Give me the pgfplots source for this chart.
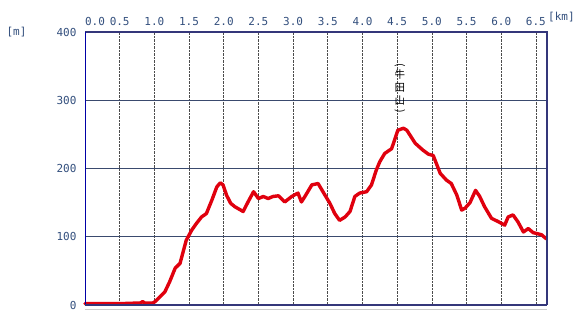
\documentclass[border=0pt]{standalone}
\usepackage{pgfplots}
\pgfplotsset{compat=1.18}
\usepackage{fontspec}
\setmainfont{DejaVu Sans Mono}
\newfontfamily\cjk{Noto Sans CJK JP}
\definecolor{lbl}{HTML}{34507E}
\definecolor{frame}{HTML}{34367A}
\definecolor{hgrid}{HTML}{3A4A6E}
\definecolor{prof}{HTML}{E0000E}
\begin{document}
\begin{tikzpicture}[x=1pt,y=1pt]
\path[use as bounding box,fill=white] (0,0) rectangle (580,313);
\begin{axis}[
  at={(85pt,8pt)}, anchor=south west,
  scale only axis, width=462pt, height=273pt,
  xmin=0, xmax=6.66, ymin=0, ymax=400,
  axis line style={draw=none},
  xtick={0.5,1,...,6.5},
  extra x ticks={0},
  extra x tick style={xticklabel style={xshift=10pt}, grid=none},
  ytick={0,100,200,300,400},
  major tick length=0pt,
  xticklabel pos=upper,
  xticklabel style={font=\fontsize{11}{12}\selectfont, text=lbl, yshift=3pt},
  yticklabel style={font=\fontsize{11}{12}\selectfont, text=lbl, xshift=-5pt},
  xticklabel={\pgfmathprintnumber[fixed,fixed zerofill,precision=1]{\tick}},
  /pgf/number format/assume math mode=true,
  xmajorgrids, ymajorgrids,
  x grid style={densely dotted, black!70, line width=0.6pt},
  y grid style={hgrid, line width=0.8pt},
  clip=false,
]
\addplot[prof, line width=3.4pt, line join=round, line cap=round] coordinates {
(0,2) (0.5,2) (0.80,3) (0.83,5) (0.86,3) (0.98,3) (1.01,5) (1.08,12) (1.15,19)
(1.22,34) (1.30,54) (1.37,61) (1.42,80) (1.46,95) (1.54,110) (1.61,120) (1.68,129)
(1.75,134) (1.83,154) (1.90,173) (1.95,179) (1.99,176) (2.04,161) (2.10,149)
(2.16,144) (2.28,137) (2.35,151) (2.43,166) (2.50,156) (2.57,159) (2.64,156)
(2.71,159) (2.79,160) (2.88,151) (2.98,159) (3.07,164) (3.12,151) (3.17,159)
(3.27,176) (3.36,178) (3.43,166) (3.53,149) (3.60,134) (3.67,124) (3.75,129)
(3.82,137) (3.89,159) (3.96,164) (4.06,166) (4.13,176) (4.20,198) (4.25,210)
(4.32,222) (4.42,229) (4.51,256) (4.59,259) (4.64,256) (4.76,237) (4.87,227)
(4.95,221) (5.02,219) (5.12,193) (5.21,183) (5.28,178) (5.36,161) (5.43,139)
(5.48,142) (5.55,150) (5.63,168) (5.69,159) (5.76,144) (5.86,127) (5.96,122)
(6.05,117) (6.10,129) (6.17,132) (6.24,122) (6.32,107) (6.39,112) (6.46,106)
(6.58,103) (6.65,97)
};
\draw[frame, line width=1.6pt] (rel axis cs:0,1) -- (rel axis cs:1,1) -- (rel axis cs:1,0);
\draw[blue!65!black, line width=0.8pt] (rel axis cs:0,0) -- (rel axis cs:0,1);
\draw[frame, line width=2.4pt] (rel axis cs:0,0) -- (rel axis cs:1,0);
\draw[black!20, line width=1pt] ([yshift=-4pt]rel axis cs:0,0) -- ([yshift=-4pt]rel axis cs:1,0);
\node[font=\cjk\fontsize{10.5}{13}\selectfont, text=black, inner sep=0pt] at (axis cs:4.54,316)
  {\begin{tabular}{@{}c@{}}\rotatebox[origin=c]{-90}{(}\\[-3pt]牛\\田\\山\\[-3pt]\rotatebox[origin=c]{-90}{)}\end{tabular}};
\end{axis}
\node[font=\fontsize{11}{12}\selectfont, text=lbl, anchor=west] at (3,281) {[m]};
\node[font=\fontsize{11}{12}\selectfont, text=lbl, anchor=west, inner sep=0pt] at (548,296) {[km]};
\end{tikzpicture}
\end{document}
